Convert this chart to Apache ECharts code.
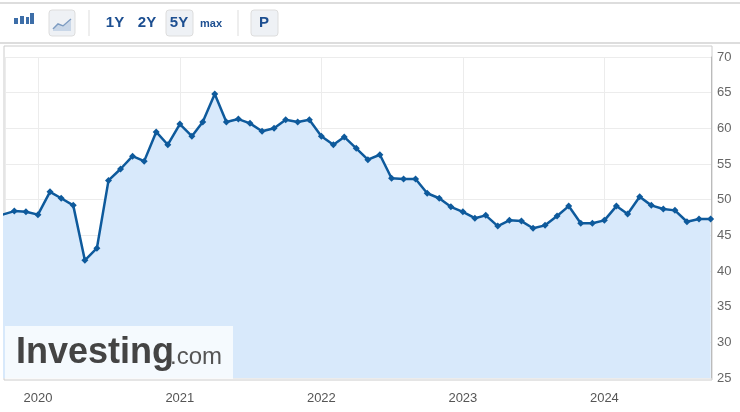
<!DOCTYPE html><html><head><meta charset="utf-8">
<script src="https://cdn.jsdelivr.net/npm/echarts@6/dist/echarts.min.js"></script>
<style>html,body{margin:0;padding:0;background:#fff}#c{width:740px;height:412px}</style></head><body><div id="c"></div>
<script>
const months = [];
for (let y = 2019, m = 10; months.length < 61; ) { months.push(y + '-' + String(m).padStart(2,'0') + '-01'); m++; if (m > 12) { m = 1; y++; } }
const values = [47.9,48.4,48.3,47.9,51.1,50.2,49.2,41.5,43.2,52.7,54.3,56.1,55.4,59.5,57.7,60.6,58.9,60.9,64.8,60.9,61.3,60.7,59.6,60.0,61.2,60.9,61.2,58.9,57.7,58.8,57.2,55.6,56.3,53.0,52.9,52.9,50.9,50.2,49.0,48.3,47.4,47.8,46.3,47.1,47.0,46.0,46.4,47.7,49.1,46.7,46.7,47.1,49.1,48.0,50.4,49.2,48.7,48.5,46.9,47.3,47.3];
const yTicks = [25,30,35,40,45,50,55,60,65,70];
const toolbarTexts = ['1Y','2Y','5Y','max','P'];
const chart = echarts.init(document.getElementById('c'));
const blue = '#1d4f91';
chart.setOption({
  animation:false,
  grid:{left:5,right:29,top:57,bottom:34},
  xAxis:{type:'time',min:'2019-10-08',max:'2024-10-02',
    axisLine:{show:false},axisTick:{show:false},
    splitLine:{show:true,lineStyle:{color:'#ececec'}},
    axisLabel:{color:'#555',fontSize:13,fontFamily:'Arial',margin:14,formatter:v=>{const d=new Date(v);return d.getMonth()===0?String(d.getFullYear()):'';}},
    minInterval:3600*24*1000*365, interval:3600*24*1000*365.25, splitNumber:5},
  yAxis:{type:'value',position:'right',min:yTicks[0],max:yTicks[yTicks.length-1],interval:5,
    axisLine:{show:true,lineStyle:{color:'#bbb'}},axisTick:{show:false},
    splitLine:{lineStyle:{color:'#ececec'}},
    axisLabel:{color:'#666',fontSize:13,fontFamily:'Arial',margin:6}},
  series:[{type:'line',data:months.map((d,i)=>[d,values[i]]),symbol:'diamond',symbolSize:7,
    lineStyle:{color:'#0e5a9c',width:2.5},itemStyle:{color:'#0e5a9c'},
    areaStyle:{color:'#d8e9fb',opacity:1},clip:true}],
  graphic:[
    {type:'line',shape:{x1:0,y1:3,x2:740,y2:3},style:{stroke:'#ddd',lineWidth:2}},
    {type:'line',shape:{x1:0,y1:43,x2:740,y2:43},style:{stroke:'#ddd',lineWidth:2}},
    {type:'rect',shape:{x:4,y:46,width:708,height:334},style:{fill:'none',stroke:'#ccc',lineWidth:1}},
    {type:'rect',shape:{x:14,y:18,width:4,height:6},style:{fill:'#3d6ea8'}},
    {type:'rect',shape:{x:20,y:16,width:4,height:8},style:{fill:'#3d6ea8'}},
    {type:'rect',shape:{x:26,y:17,width:3,height:7},style:{fill:'#3d6ea8'}},
    {type:'rect',shape:{x:30,y:13,width:4,height:11},style:{fill:'#3d6ea8'}},
    {type:'rect',shape:{x:49,y:10,width:26,height:26,r:3},style:{fill:'#eef1f5',stroke:'#ddd'}},
    {type:'polygon',shape:{points:[[53,30],[58,25],[63,27],[71,20],[71,31],[53,31]]},style:{fill:'#c9d7e8'}},
    {type:'polyline',shape:{points:[[53,29],[58,24],[63,26],[71,19]]},style:{stroke:'#7d9cc2',lineWidth:1.5,fill:'none'}},
    {type:'line',shape:{x1:89,y1:10,x2:89,y2:36},style:{stroke:'#ddd'}},
    {type:'line',shape:{x1:238,y1:10,x2:238,y2:36},style:{stroke:'#ddd'}},
    {type:'rect',shape:{x:166,y:10,width:27,height:26,r:3},style:{fill:'#eef1f5',stroke:'#ddd'}},
    {type:'rect',shape:{x:251,y:10,width:27,height:26,r:3},style:{fill:'#eef1f5',stroke:'#ddd'}},
    {type:'text',x:115,y:23,style:{text:toolbarTexts[0],fill:blue,font:'bold 15px Arial',textAlign:'center',textVerticalAlign:'middle'}},
    {type:'text',x:147,y:23,style:{text:toolbarTexts[1],fill:blue,font:'bold 15px Arial',textAlign:'center',textVerticalAlign:'middle'}},
    {type:'text',x:179,y:23,style:{text:toolbarTexts[2],fill:blue,font:'bold 15px Arial',textAlign:'center',textVerticalAlign:'middle'}},
    {type:'text',x:211,y:24,style:{text:toolbarTexts[3],fill:blue,font:'bold 11px Arial',textAlign:'center',textVerticalAlign:'middle'}},
    {type:'text',x:264,y:23,style:{text:toolbarTexts[4],fill:blue,font:'bold 15px Arial',textAlign:'center',textVerticalAlign:'middle'}},
    {type:'rect',z:100,shape:{x:5,y:326,width:228,height:53},style:{fill:'rgba(255,255,255,0.75)'}},
    {type:'text',z:101,x:16,y:353,style:{text:'Investing',fill:'#444',font:'bold 36px "Liberation Sans"',textVerticalAlign:'middle'}},
    {type:'text',z:101,x:170,y:357,style:{text:'.com',fill:'#555',font:'24px "Liberation Sans"',textVerticalAlign:'middle'}}
  ]
});
</script></body></html>
